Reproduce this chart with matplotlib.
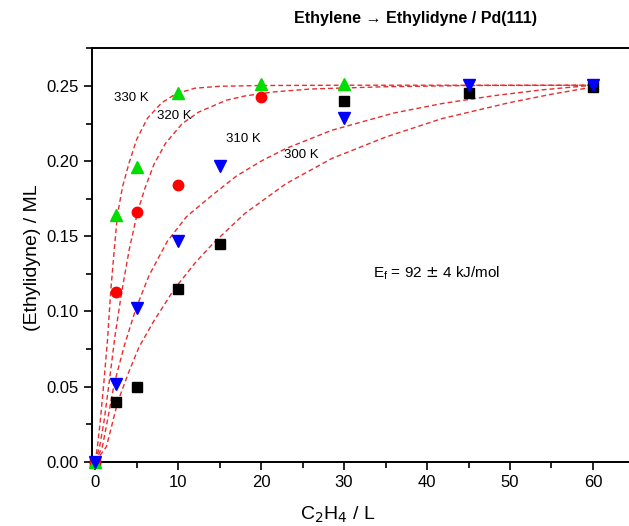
import matplotlib
matplotlib.use("Agg")
import matplotlib.pyplot as plt
from matplotlib.ticker import MultipleLocator

plt.rcParams['font.family'] = ['Liberation Sans', 'DejaVu Sans']

# --- measured points (exposure in L, coverage in ML) ---
x_330 = [0, 2.5, 5, 10, 20, 30]
y_330 = [0, 0.164, 0.196, 0.245, 0.251, 0.251]

x_320 = [0, 2.5, 5, 10, 20]
y_320 = [0, 0.113, 0.166, 0.184, 0.243]

x_310 = [0, 2.5, 5, 10, 15, 30, 45, 60]
y_310 = [0, 0.052, 0.102, 0.147, 0.197, 0.229, 0.2505, 0.2505]

x_300 = [0, 2.5, 5, 10, 15, 30, 45, 60]
y_300 = [0, 0.040, 0.050, 0.115, 0.145, 0.240, 0.245, 0.249]

# --- fitted curves ---
fit_x_330 = [0, 0.27, 0.6, 1.07, 1.5, 1.87, 2.3, 2.68, 3.3, 4.1, 5, 6.3, 8, 9.7, 12, 15, 20, 30, 60]
fit_y_330 = [0, 0.010, 0.026, 0.054, 0.082, 0.113, 0.141, 0.164, 0.183, 0.199, 0.2144, 0.2285,
             0.2387, 0.2447, 0.2485, 0.2498, 0.2503, 0.2505, 0.2505]

fit_x_320 = [0, 0.54, 1.1, 1.67, 2.4, 3.2, 4.1, 5.1, 6, 7.1, 8.5, 10.5, 12.5, 15.8, 18, 21.4, 26, 35, 45, 60]
fit_y_320 = [0, 0.010, 0.028, 0.052, 0.084, 0.113, 0.141, 0.166, 0.182, 0.198, 0.212, 0.225,
             0.2327, 0.2405, 0.2433, 0.246, 0.248, 0.2495, 0.2503, 0.2505]

fit_x_310 = [0, 0.87, 1.5, 2.3, 3.5, 4.9, 6.5, 8.7, 11, 13.8, 17, 20, 23, 28.5, 36, 41.8, 48, 54, 60]
fit_y_310 = [0, 0.010, 0.028, 0.052, 0.077, 0.1017, 0.124, 0.1467, 0.163, 0.176, 0.190, 0.200,
             0.2084, 0.2205, 0.232, 0.2383, 0.2435, 0.2475, 0.2505]

fit_x_300 = [0, 1.35, 2, 2.7, 4, 5.3, 7, 9.5, 12, 14.2, 18, 23, 28.5, 35, 41.8, 50, 55, 60]
fit_y_300 = [0, 0.010, 0.024, 0.0395, 0.059, 0.0765, 0.093, 0.1146, 0.132, 0.1452, 0.165, 0.185,
             0.2017, 0.216, 0.2283, 0.239, 0.2445, 0.2493]

temp_labels = ['330 K', '320 K', '310 K', '300 K']
label_x = [4.3, 9.6, 17.9, 24.8]
label_y = [0.2418, 0.2298, 0.215, 0.204]

fig = plt.figure(figsize=(6.29, 5.26), dpi=100)
ax = fig.add_axes([0.146, 0.122, 0.86, 0.786])

fit_style = dict(color='#e62e30', lw=1.0, ls=(0, (3.5, 2.2)), zorder=2)
for fx, fy in [(fit_x_330, fit_y_330), (fit_x_320, fit_y_320),
               (fit_x_310, fit_y_310), (fit_x_300, fit_y_300)]:
    ax.plot(fx, fy, **fit_style)

ax.plot(x_300, y_300, ls='none', marker='s', ms=6.5, color='black', clip_on=False, zorder=4)
ax.plot(x_320, y_320, ls='none', marker='o', ms=7.5, color='#ff0000', clip_on=False, zorder=4)
ax.plot(x_330, y_330, ls='none', marker='^', ms=8.5, color='#00dd00', clip_on=False, zorder=4)
ax.plot(x_310, y_310, ls='none', marker='v', ms=8.5, color='#0000ff', clip_on=False, zorder=5)

for t, lx, ly in zip(temp_labels, label_x, label_y):
    ax.text(lx, ly, t, fontsize=9.5, ha='center', va='center')

ax.text(48.8, 0.1255, r'E$_\mathregular{f}$ = 92 $\pm$ 4 kJ/mol', fontsize=11, ha='right', va='center')

ax.set_xlim(-0.4, 64.8)
ax.set_ylim(0, 0.275)
ax.xaxis.set_major_locator(MultipleLocator(10))
ax.xaxis.set_minor_locator(MultipleLocator(5))
ax.yaxis.set_major_locator(MultipleLocator(0.05))
ax.yaxis.set_minor_locator(MultipleLocator(0.025))
ax.yaxis.set_major_formatter(plt.FuncFormatter(lambda v, p: f'{v:.2f}'))
ax.tick_params(which='major', direction='out', length=6, width=1.2, labelsize=12)
ax.tick_params(which='minor', direction='out', length=4, width=1.2)
for s in ['left', 'bottom', 'top']:
    ax.spines[s].set_linewidth(1.4)
ax.spines['right'].set_visible(False)

fig.text(0.052, 0.51, '(Ethylidyne) / ML', rotation=90, fontsize=14, ha='center', va='center')
fig.text(0.537, 0.022, r'C$_2$H$_4$ / L', fontsize=14, ha='center', va='center')
fig.text(0.661, 0.965, 'Ethylene \u2192 Ethylidyne / Pd(111)', fontsize=11.5,
         fontweight='bold', ha='center', va='center')

fig.savefig('out.png', dpi=100)
